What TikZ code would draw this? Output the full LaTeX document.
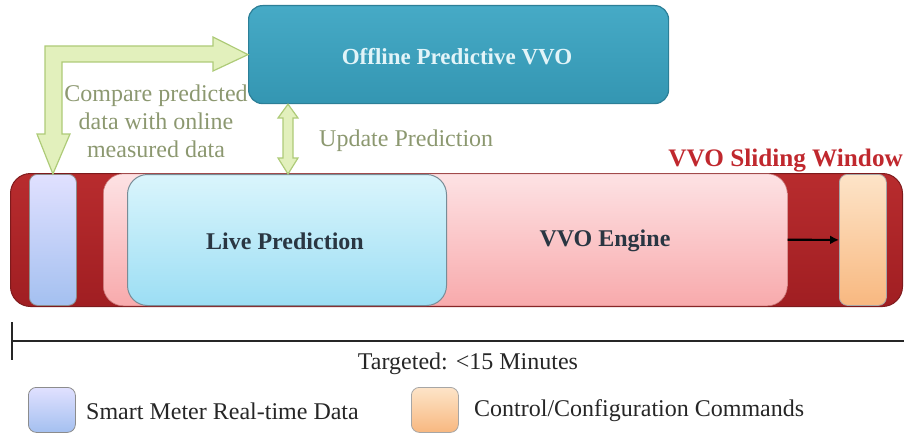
\documentclass[tikz,border=0pt]{standalone}
\usepackage{fontspec}
\setmainfont{Liberation Serif}
\usetikzlibrary{arrows.meta}

\definecolor{tealedge}{HTML}{2C7F97}
\definecolor{greenfill}{HTML}{E2F0BC}
\definecolor{greenedge}{HTML}{AECB78}
\definecolor{olivetext}{HTML}{8C9870}
\definecolor{baredge}{HTML}{7E1A1C}
\definecolor{slidered}{HTML}{C0282E}
\definecolor{darktext}{HTML}{2A3642}

\tikzset{
  txt/.style={font=\fontsize{24}{28}\selectfont, inner sep=0pt},
  boldtxt/.style={font=\fontsize{24}{28}\selectfont\bfseries, inner sep=0pt},
  box/.style={anchor=north west, inner sep=0pt},
  meterbox/.style={box, rounded corners=8pt, draw=black!45, line width=0.8pt,
    top color=blue!12!white, bottom color={rgb,255:red,164;green,192;blue,240}},
  cmdbox/.style={box, rounded corners=8pt, draw=black!35, line width=0.8pt,
    top color={rgb,255:red,253;green,228;blue,200}, bottom color={rgb,255:red,248;green,184;blue,128}},
  blockarrow/.style={fill=greenfill, draw=greenedge, line width=1.2pt, line join=miter},
}

\begin{document}
\begin{tikzpicture}[x=1pt,y=-1pt]
\useasboundingbox (0,0) rectangle (904,436);

% offline predictive block
\node[box, minimum width=420pt, minimum height=98pt, rounded corners=14pt,
      draw=tealedge, line width=1.2pt,
      top color={rgb,255:red,70;green,170;blue,198}, bottom color={rgb,255:red,52;green,150;blue,178}]
      (offline) at (248,5) {};
\node[txt, text={rgb,255:red,226;green,244;blue,248}, font=\fontsize{23}{28}\selectfont\bfseries]
      (offlinetxt) at (457,57) {Offline Predictive VVO};

% sliding window bar
\node[box, minimum width=892pt, minimum height=133pt, rounded corners=20pt,
      draw=baredge, line width=1pt,
      top color={rgb,255:red,184;green,44;blue,46}, bottom color={rgb,255:red,160;green,30;blue,34}]
      (bar) at (10,173) {};
\node[boldtxt, text=slidered, anchor=east, font=\fontsize{25.2}{28}\selectfont\bfseries]
      (slidetxt) at (903,161) {VVO Sliding Window};

% VVO engine (pink) and live prediction (light blue)
\node[box, minimum width=684pt, minimum height=132pt, rounded corners=20pt,
      draw={rgb,255:red,200;green,120;blue,120}, line width=0.6pt,
      top color={rgb,255:red,253;green,226;blue,228}, bottom color={rgb,255:red,248;green,170;blue,172}]
      (engine) at (103,173.5) {};
\node[box, minimum width=319pt, minimum height=131pt, rounded corners=20pt,
      draw={rgb,255:red,120;green,140;blue,150}, line width=1pt,
      top color={rgb,255:red,218;green,245;blue,252}, bottom color={rgb,255:red,156;green,222;blue,244}]
      (live) at (127,174) {};
\node[boldtxt, text=darktext] (livetxt) at (285,241) {Live Prediction};
\node[boldtxt, text=darktext] (enginetxt) at (605,241) {VVO Engine};

% smart meter data and control commands in the window
\node[meterbox, minimum width=47pt, minimum height=131pt] (meter) at (29,174) {};
\node[cmdbox, minimum width=47pt, minimum height=131pt] (cmd) at (839,174) {};
\draw[-{Latex[length=9pt,width=9pt]}, line width=2.2pt, black] (engine.east) -- (cmd.west);

% compare arrow: from the meter data up and over to the offline block
\filldraw[blockarrow]
  (45,46) -- (213,46) -- (213,37) -- (offline.west) -- (213,71) -- (213,62)
  -- (62,62) -- (62,134) -- (70,134) -- (meter.north) -- (37,134) -- (45,134) -- cycle;
\node[txt, text=olivetext, align=center] (comparetxt) at (156,121)
  {Compare predicted\\data with online\\measured data};

% update prediction double arrow
\coordinate (upd) at (288,0);
\filldraw[blockarrow]
  (offline.south -| upd) -- (298,118) -- (293,118) -- (293,158) -- (298,158)
  -- (live.north -| upd) -- (278,158) -- (283,158) -- (283,118) -- (278,118) -- cycle;
\node[txt, text=olivetext, anchor=west] (updtxt) at (319,141) {Update Prediction};

% time line
\coordinate (tltop) at (12,322);
\coordinate (tlbot) at (12,360);
\coordinate (tlleft) at (12,341);
\coordinate (tlright) at (904,341);
\draw[line width=2.5pt, black!85] (tltop) -- (tlbot);
\draw[line width=2.5pt, black!85] (tlleft) -- (tlright);
\node[txt, text=black!85] (target) at (468,364) {Targeted: <15 Minutes};

% legend
\node[meterbox, minimum width=47pt, minimum height=45pt] (legmeter) at (28,387) {};
\node[txt, text=black!85, anchor=west] (legmetertxt) at (86,411) {Smart Meter Real-time Data};
\node[cmdbox, minimum width=47pt, minimum height=45pt] (legcmd) at (411,387) {};
\node[txt, text=black!85, anchor=west] (legcmdtxt) at (474,411) {Control/Configuration Commands};
\end{tikzpicture}
\end{document}
